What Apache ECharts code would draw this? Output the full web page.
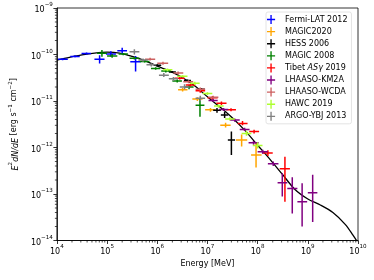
<!DOCTYPE html>
<html>
<head>
<meta charset="utf-8">
<script src="https://cdn.jsdelivr.net/npm/echarts@6/dist/echarts.min.js"></script>
<style>
html,body{margin:0;padding:0;background:#fff;}
#chart{width:374px;height:280px;}
</style>
</head>
<body>
<div id="chart"></div>
<script>
// rows: [Energy MeV, E2dN/dE, Elow, Ehigh, Flow, Fhigh]
const fermiLat2012 = [
  [1.3e4, 7.9e-11, 1.05e4, 1.65e4, 7.5e-11, 8.3e-11],
  [2.3e4, 9.1e-11, 1.85e4, 2.85e4, 8.7e-11, 9.6e-11],
  [3.9e4, 1.05e-10, 3.1e4, 4.8e4, 1.0e-10, 1.1e-10],
  [7.1e4, 7.9e-11, 5.6e4, 8.9e4, 6.4e-11, 9.6e-11],
  [1.19e5, 1.02e-10, 9.5e4, 1.5e5, 8.9e-11, 1.17e-10],
  [2.0e5, 1.21e-10, 1.6e5, 2.5e5, 1.03e-10, 1.4e-10],
  [3.7e5, 7.0e-11, 2.9e5, 4.7e5, 4.3e-11, 9.3e-11]
];
const magic2020 = [
  [3.2e6, 1.74e-11, 2.6e6, 4.0e6, 1.6e-11, 1.9e-11],
  [6.3e6, 1.1e-11, 5.0e6, 8.0e6, 1.0e-11, 1.2e-11],
  [1.15e7, 6.5e-12, 9.0e6, 1.45e7, 5.9e-12, 7.1e-12],
  [2.3e7, 3.0e-12, 1.8e7, 2.9e7, 2.7e-12, 3.4e-12],
  [4.8e7, 1.45e-12, 3.7e7, 6.2e7, 1.05e-12, 1.9e-12],
  [9.3e7, 6.9e-13, 7.4e7, 1.2e8, 3.7e-13, 1.3e-12]
];
const hess2006 = [
  [1.0e6, 5.9e-11, 8.5e5, 1.2e6, 5.6e-11, 6.2e-11],
  [2.0e6, 4.2e-11, 1.7e6, 2.35e6, 4.0e-11, 4.4e-11],
  [4.0e6, 2.75e-11, 3.4e6, 4.7e6, 2.6e-11, 2.9e-11],
  [7.6e6, 1.78e-11, 6.5e6, 8.9e6, 1.65e-11, 1.9e-11],
  [1.55e7, 6.3e-12, 1.3e7, 1.85e7, 5.6e-12, 7.1e-12],
  [2.2e7, 5.0e-12, 1.85e7, 2.6e7, 4.3e-12, 5.8e-12],
  [3.0e7, 1.45e-12, 2.55e7, 3.55e7, 6.9e-13, 2.2e-12]
];
const magic2008 = [
  [7.9e4, 1.06e-10, 6.3e4, 1.0e5, 8.9e-11, 1.25e-10],
  [1.26e5, 9.3e-11, 1.0e5, 1.6e5, 8.5e-11, 1.02e-10],
  [2.1e5, 1.02e-10, 1.7e5, 2.6e5, 9.6e-11, 1.08e-10],
  [3.5e5, 8.3e-11, 2.8e5, 4.4e5, 7.8e-11, 8.8e-11],
  [5.6e5, 7.1e-11, 4.5e5, 7.0e5, 6.7e-11, 7.5e-11],
  [9.3e5, 5.0e-11, 7.5e5, 1.15e6, 4.7e-11, 5.3e-11],
  [1.48e6, 4.4e-11, 1.2e6, 1.85e6, 4.1e-11, 4.7e-11],
  [2.5e6, 2.7e-11, 2.0e6, 3.1e6, 2.5e-11, 2.9e-11],
  [4.3e6, 2.0e-11, 3.5e6, 5.3e6, 1.8e-11, 2.2e-11],
  [7.1e6, 8.1e-12, 5.8e6, 8.7e6, 4.6e-12, 1.15e-11]
];
const tibetAsg2019 = [
  [2.8e6, 3.1e-11, 2.2e6, 3.5e6, 2.9e-11, 3.3e-11],
  [4.6e6, 2.2e-11, 3.7e6, 5.7e6, 2.05e-11, 2.35e-11],
  [7.2e6, 1.66e-11, 5.8e6, 9.0e6, 1.5e-11, 1.8e-11],
  [1.26e7, 1.17e-11, 1.0e7, 1.6e7, 1.07e-11, 1.28e-11],
  [1.9e7, 8.9e-12, 1.5e7, 2.4e7, 8.2e-12, 9.7e-12],
  [2.95e7, 6.5e-12, 2.35e7, 3.7e7, 6.0e-12, 7.0e-12],
  [5.0e7, 3.3e-12, 4.0e7, 6.3e7, 3.0e-12, 3.7e-12],
  [8.5e7, 2.2e-12, 6.8e7, 1.07e8, 2.0e-12, 2.4e-12],
  [1.6e8, 7.6e-13, 1.25e8, 2.0e8, 6.6e-13, 8.7e-13],
  [3.5e8, 3.5e-13, 2.75e8, 4.4e8, 6.8e-14, 6.3e-13]
];
const lhaasoKm2a = [
  [1.3e7, 1.02e-11, 1.05e7, 1.6e7, 9.5e-12, 1.1e-11],
  [2.1e7, 6.6e-12, 1.7e7, 2.6e7, 6.1e-12, 7.1e-12],
  [3.5e7, 3.9e-12, 2.8e7, 4.4e7, 3.6e-12, 4.2e-12],
  [5.5e7, 2.45e-12, 4.4e7, 6.9e7, 2.25e-12, 2.65e-12],
  [8.3e7, 1.26e-12, 6.6e7, 1.05e8, 1.15e-12, 1.38e-12],
  [1.26e8, 8.1e-13, 1.0e8, 1.6e8, 7.3e-13, 9.0e-13],
  [2.05e8, 4.5e-13, 1.6e8, 2.6e8, 4.0e-13, 5.0e-13],
  [3.1e8, 1.75e-13, 2.5e8, 3.9e8, 8.8e-14, 2.8e-13],
  [4.9e8, 1.32e-13, 3.9e8, 6.2e8, 3.8e-14, 2.3e-13],
  [7.7e8, 6.8e-14, 6.2e8, 9.7e8, 2.0e-14, 1.7e-13],
  [1.25e9, 1.07e-13, 1.0e9, 1.55e9, 2.5e-14, 2.6e-13]
];
const lhaasoWcda = [
  [7.2e5, 7.9e-11, 5.7e5, 9.1e5, 7.4e-11, 8.5e-11],
  [1.3e6, 6.5e-11, 1.0e6, 1.65e6, 6.0e-11, 7.0e-11],
  [2.6e6, 4.0e-11, 2.1e6, 3.3e6, 3.7e-11, 4.3e-11],
  [4.2e6, 2.6e-11, 3.3e6, 5.2e6, 2.4e-11, 2.8e-11],
  [7.2e6, 1.8e-11, 5.8e6, 9.0e6, 1.65e-11, 1.95e-11],
  [1.3e7, 1.2e-11, 1.05e7, 1.65e7, 1.1e-11, 1.3e-11]
];
const hawc2019 = [
  [1.6e6, 4.7e-11, 1.3e6, 2.0e6, 4.4e-11, 5.0e-11],
  [3.2e6, 3.4e-11, 2.5e6, 4.0e6, 3.2e-11, 3.6e-11],
  [5.6e6, 2.4e-11, 4.5e6, 7.0e6, 2.2e-11, 2.6e-11],
  [1.0e7, 1.45e-11, 8.0e6, 1.25e7, 1.35e-11, 1.55e-11],
  [1.66e7, 7.8e-12, 1.35e7, 2.1e7, 7.2e-12, 8.4e-12],
  [2.8e7, 4.1e-12, 2.25e7, 3.5e7, 3.8e-12, 4.5e-12],
  [6.0e7, 2.0e-12, 4.8e7, 7.5e7, 1.8e-12, 2.3e-12],
  [1.0e8, 1.1e-12, 8.0e7, 1.25e8, 9.5e-13, 1.3e-12]
];
const argoYbj2013 = [
  [3.5e5, 1.15e-10, 2.8e5, 4.4e5, 1.0e-10, 1.3e-10],
  [5.2e5, 7.6e-11, 4.2e5, 6.5e5, 7.0e-11, 8.2e-11],
  [7.6e5, 6.0e-11, 6.1e5, 9.5e5, 5.5e-11, 6.5e-11],
  [1.35e6, 3.6e-11, 1.08e6, 1.7e6, 3.3e-11, 4.0e-11],
  [2.1e6, 3.0e-11, 1.7e6, 2.6e6, 2.7e-11, 3.3e-11],
  [3.5e6, 2.0e-11, 2.8e6, 4.4e6, 1.8e-11, 2.3e-11],
  [7.2e6, 1.15e-11, 5.8e6, 9.0e6, 1.0e-11, 1.3e-11]
];
const modelEnergy = [1e4, 1.78e4, 3.16e4, 5.62e4, 1e5, 1.78e5, 3.16e5, 5.62e5, 1e6, 1.78e6, 3.16e6, 5.62e6, 1e7,
  1.78e7, 3.16e7, 5.62e7, 1e8, 1.78e8, 3.16e8, 5.62e8, 1e9, 1.78e9, 3.16e9, 5.62e9, 7.94e9, 1e10];
const modelFlux = [7.6e-11, 8.7e-11, 9.8e-11, 1.07e-10, 1.12e-10, 1.07e-10, 9.1e-11, 7.4e-11, 5.6e-11, 4.4e-11,
  3.2e-11, 2.1e-11, 1.23e-11, 7.4e-12, 4.3e-12, 2.3e-12, 1.12e-12, 5.5e-13, 2.6e-13, 1.23e-13, 7.8e-14, 5.8e-14,
  4.0e-14, 2.2e-14, 1.3e-14, 8.9e-15];
const seriesNames = ['Fermi-LAT 2012', 'MAGIC2020', 'HESS 2006', 'MAGIC 2008', 'Tibet ASγ 2019',
  'LHAASO-KM2A', 'LHAASO-WCDA', 'HAWC 2019', 'ARGO-YBJ 2013'];
const seriesData = [fermiLat2012, magic2020, hess2006, magic2008, tibetAsg2019, lhaasoKm2a, lhaasoWcda, hawc2019, argoYbj2013];
const seriesColors = ['#0000ff', '#ffa500', '#000000', '#008000', '#ff0000', '#800080', '#cd6060', '#adff2f', '#808080'];
const xDecades = [4, 5, 6, 7, 8, 9];
const yDecades = [-14, -13, -12, -11, -10];
const minorMantissas = [2, 3, 4, 5, 6, 7, 8, 9];

const FONT = 'DejaVu Sans';
function expLabel(v) {
  const e = Math.round(Math.log10(v));
  return '{b|10}{s|' + String(e).replace('-', '−') + '}';
}
const richLabel = {
  b: {fontSize: 8, fontFamily: FONT, color: '#000', verticalAlign: 'bottom', lineHeight: 12},
  s: {fontSize: 5.6, fontFamily: FONT, color: '#000', verticalAlign: 'top', lineHeight: 12}
};

function renderCross(params, api) {
  const E = api.value(0), F = api.value(1);
  const pL = api.coord([api.value(2), F]), pR = api.coord([api.value(3), F]);
  const pT = api.coord([E, api.value(5)]), pB = api.coord([E, api.value(4)]);
  const style = {stroke: api.visual('color'), lineWidth: 1.5};
  return {type: 'group', children: [
    {type: 'line', shape: {x1: pL[0], y1: pL[1], x2: pR[0], y2: pR[1]}, style: style},
    {type: 'line', shape: {x1: pT[0], y1: pT[1], x2: pB[0], y2: pB[1]}, style: style}
  ]};
}

const xMinor = [], yMinor = [];
xDecades.forEach(d => minorMantissas.forEach(m => xMinor.push([m * Math.pow(10, d), 1e-12])));
yDecades.forEach(d => minorMantissas.forEach(m => yMinor.push([1e6, m * Math.pow(10, d)])));

const crossIcon = 'path://M0,4.25 L9,4.25 L9,5.75 L0,5.75 Z M3.75,0 L5.25,0 L5.25,10 L3.75,10 Z';

const series = [{
  type: 'line', name: 'model', data: modelEnergy.map((e, i) => [e, modelFlux[i]]),
  smooth: 0.3, showSymbol: false, lineStyle: {color: '#000', width: 1.3}, z: 1, silent: true
}];
seriesNames.forEach((n, i) => series.push({
  type: 'custom', name: n, data: seriesData[i], renderItem: renderCross,
  itemStyle: {color: seriesColors[i]}, encode: {x: 0, y: 1}, z: 2 + i, clip: true
}));
series.push({
  type: 'custom', name: 'xminor', data: xMinor, silent: true, z: 20,
  renderItem: function (params, api) {
    const p = api.coord([api.value(0), api.value(1)]);
    const yb = params.coordSys.y + params.coordSys.height;
    return {type: 'line', shape: {x1: p[0], y1: yb, x2: p[0], y2: yb + 2}, style: {stroke: '#000', lineWidth: 0.7}};
  }
});
series.push({
  type: 'custom', name: 'yminor', data: yMinor, silent: true, z: 20,
  renderItem: function (params, api) {
    const p = api.coord([api.value(0), api.value(1)]);
    const xl = params.coordSys.x;
    return {type: 'line', shape: {x1: xl, y1: p[1], x2: xl - 2, y2: p[1]}, style: {stroke: '#000', lineWidth: 0.7}};
  }
});

const chart = echarts.init(document.getElementById('chart'), null, {renderer: 'canvas'});
chart.setOption({
  animation: false,
  backgroundColor: '#fff',
  textStyle: {fontFamily: FONT},
  grid: {left: 52.5, right: 16, top: 8, bottom: 39.5, show: true, borderColor: '#000', borderWidth: 0.8, containLabel: false},
  xAxis: {
    type: 'log', logBase: 10, min: 1e4, max: 1e10, splitNumber: 6,
    name: 'Energy [MeV]', nameLocation: 'middle', nameGap: 17,
    nameTextStyle: {fontSize: 8, fontFamily: FONT, color: '#000'},
    axisLine: {lineStyle: {color: '#000', width: 0.8}},
    axisTick: {show: true, length: 3.5, lineStyle: {color: '#000', width: 0.8}},
    axisLabel: {formatter: expLabel, rich: richLabel, margin: 3},
    splitLine: {show: false}
  },
  yAxis: {
    type: 'log', logBase: 10, min: 1e-14, max: 1e-9, splitNumber: 5,
    name: '{i|E}{s|2}{i|dN/dE} [erg s{s|−1} cm{s|−2}]', nameLocation: 'middle', nameGap: 33, nameRotate: 90,
    nameTextStyle: {fontSize: 8, fontFamily: FONT, color: '#000', rich: {
      i: {fontSize: 8, fontFamily: FONT, fontStyle: 'italic', color: '#000', verticalAlign: 'bottom', lineHeight: 12},
      s: {fontSize: 5.6, fontFamily: FONT, color: '#000', verticalAlign: 'top', lineHeight: 12}
    }},
    axisLine: {lineStyle: {color: '#000', width: 0.8}},
    axisTick: {show: true, length: 3.5, lineStyle: {color: '#000', width: 0.8}},
    axisLabel: {formatter: expLabel, rich: richLabel, margin: 4},
    splitLine: {show: false}
  },
  legend: {
    data: seriesNames.map(n => ({name: n, icon: crossIcon})),
    orient: 'vertical', left: 266, top: 12,
    itemWidth: 16, itemHeight: 9, itemGap: 3.1,
    padding: [3, 4, 3, 1],
    borderColor: '#dddddd', borderWidth: 0.8, borderRadius: 2,
    formatter: function (name) {
      return name === 'Tibet ASγ 2019' ? 'Tibet {i|ASγ} 2019' : name;
    },
    textStyle: {fontSize: 8, fontFamily: FONT, color: '#000', padding: [0, 0, 0, 1],
      rich: {i: {fontSize: 8, fontFamily: FONT, fontStyle: 'italic', color: '#000'}}},
    selectedMode: false
  },
  series: series
});
</script>
</body>
</html>
